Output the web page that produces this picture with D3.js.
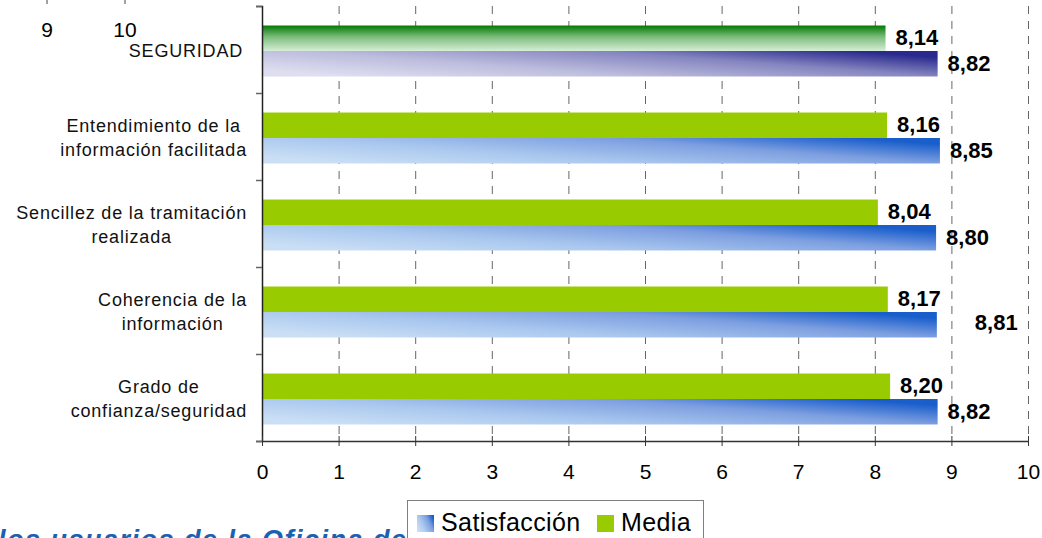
<!DOCTYPE html>
<html>
<head>
<meta charset="utf-8">
<script src="https://cdn.jsdelivr.net/npm/d3@7"></script>
<style>
  body { margin: 0; background: #fff; }
  svg { display: block; }
</style>
</head>
<body>
<script>
// data (top row first)
var categories = [
  "SEGURIDAD",
  "Entendimiento de la\ninformación facilitada",
  "Sencillez de la tramitación\nrealizada",
  "Coherencia de la\ninformación",
  "Grado de\nconfianza/seguridad"
];
var satisfaccion = [8.82, 8.85, 8.80, 8.81, 8.82];
var media = [8.14, 8.16, 8.04, 8.17, 8.20];
var xTicks = [0, 1, 2, 3, 4, 5, 6, 7, 8, 9, 10];
var seriesNames = ["Satisfacción", "Media"];
// leftovers of the chart above that show at the top edge
var prevTicks = [9, 10];
var footerText = "los usuarios de la Oficina de";

var w = 1042, h = 538;
var font = "Arial, 'Liberation Sans', sans-serif";

var svg = d3.select("body").append("svg")
    .attr("width", w)
    .attr("height", h)
    .attr("class", "container")
    .style("background-color", "#fff");

var defs = svg.append("defs");

function diagGrad(id, stops) {
  var g = defs.append("linearGradient").attr("id", id)
      .attr("x1", 0).attr("y1", 0.75).attr("x2", 1).attr("y2", 0.25);
  stops.forEach(function(s){
    g.append("stop").attr("offset", s[0]).attr("stop-color", s[1]);
  });
}
diagGrad("gBlue", [[0, "#cadff5"], [0.35, "#a9c7ee"], [0.7, "#7d9fe0"], [1, "#1a5ecc"]]);
diagGrad("gPurple", [[0, "#dedef0"], [0.35, "#bcbcdd"], [0.7, "#8585c0"], [1, "#2a2a8e"]]);
var gg = defs.append("linearGradient").attr("id", "gGreen")
    .attr("x1", 0).attr("y1", 0).attr("x2", 0).attr("y2", 1);
gg.append("stop").attr("offset", 0).attr("stop-color", "#037903");
gg.append("stop").attr("offset", 0.45).attr("stop-color", "#7dbd7e");
gg.append("stop").attr("offset", 1).attr("stop-color", "#d6eed6");

// scales
var x = d3.scaleLinear().domain([0, 10]).range([262, 1028]);
var y = d3.scaleBand().domain(categories).range([6, 441])
    .paddingInner(0.414).paddingOuter(0.207);
var yEdge = d3.scaleLinear().domain([0, categories.length]).range([6, 441]);
var sub = d3.scaleBand().domain(["media", "satis"]).range([0, y.bandwidth()]);

var fmt = function(v){ return d3.format(".2f")(v).replace(".", ","); };

// dashed vertical gridlines
svg.append("g").attr("class", "grid")
  .selectAll("line")
  .data(xTicks.slice(1))
  .enter().append("line")
    .attr("x1", function(d){ return x(d) + 0.5; })
    .attr("x2", function(d){ return x(d) + 0.5; })
    .attr("y1", 6).attr("y2", 441)
    .attr("stroke", "#666")
    .attr("stroke-width", 1)
    .attr("stroke-dasharray", "8,7");

// bars
var rows = categories.map(function(c, i){
  return { cat: c, i: i, media: media[i], satis: satisfaccion[i] };
});

var bars = svg.append("g").attr("class", "bars")
    .attr("transform", "translate(0,1.5)");

bars.selectAll("rect.media")
  .data(rows).enter().append("rect")
    .attr("class", "media")
    .attr("x", x(0))
    .attr("y", function(d){ return y(d.cat) + sub("media"); })
    .attr("width", function(d){ return x(d.media) - x(0); })
    .attr("height", sub.bandwidth())
    .attr("fill", function(d){ return d.i === 0 ? "url(#gGreen)" : "#99cc00"; });

bars.selectAll("rect.satis")
  .data(rows).enter().append("rect")
    .attr("class", "satis")
    .attr("x", x(0))
    .attr("y", function(d){ return y(d.cat) + sub("satis"); })
    .attr("width", function(d){ return x(d.satis) - x(0); })
    .attr("height", sub.bandwidth())
    .attr("fill", function(d){ return d.i === 0 ? "url(#gPurple)" : "url(#gBlue)"; });

// value labels
var labelStyle = function(sel){
  sel.attr("font-family", font)
     .attr("font-size", 22)
     .attr("font-weight", "bold")
     .attr("fill", "#000");
};
bars.selectAll("text.media")
  .data(rows).enter().append("text")
    .attr("class", "media")
    .attr("x", function(d){ return x(d.media) + 10; })
    .attr("y", function(d){ return y(d.cat) + sub("media") + sub.bandwidth() / 2 + 7; })
    .text(function(d){ return fmt(d.media); })
    .call(labelStyle);

bars.selectAll("text.satis")
  .data(rows).enter().append("text")
    .attr("class", "satis")
    // the Coherencia label sits further out in the original
    .attr("x", function(d){ return x(d.satis) + (d.i === 3 ? 38 : 10); })
    .attr("y", function(d){ return y(d.cat) + sub("satis") + sub.bandwidth() / 2 + (d.i === 3 ? 5 : 7); })
    .text(function(d){ return fmt(d.satis); })
    .call(labelStyle);

// y axis
var yAxis = svg.append("g").attr("class", "y-axis")
    .attr("transform", "translate(262,0)")
    .call(d3.axisLeft(yEdge).tickValues(d3.range(categories.length + 1))
      .tickSize(6).tickFormat(""));
yAxis.select(".domain").attr("stroke", "#222").attr("stroke-width", 1.5);
yAxis.selectAll(".tick line").attr("stroke", "#666").attr("stroke-width", 1.5);

// x axis
var xAxis = svg.append("g").attr("class", "x-axis")
    .attr("transform", "translate(0,441)")
    .call(d3.axisBottom(x).tickValues(xTicks).tickSizeInner(5).tickSizeOuter(0));
xAxis.select(".domain").attr("stroke", "#333").attr("stroke-width", 1.5);
xAxis.selectAll(".tick line").attr("y1", -5).attr("y2", 5).attr("stroke", "#333");
xAxis.selectAll(".tick text")
    .attr("y", 38).attr("dy", 0)
    .attr("font-family", font)
    .attr("font-size", 21)
    .attr("fill", "#000");

// category labels: each block right aligned at the axis, lines centred in it
var catG = svg.append("g").attr("class", "cat-labels");
categories.forEach(function(c){
  var lines = c.split("\n");
  var t = catG.append("text")
      .attr("font-family", font)
      .attr("font-size", 18)
      .attr("letter-spacing", 0.8)
      .attr("fill", "#111")
      .attr("text-anchor", "middle");
  var cy = y(c) + y.bandwidth() / 2 + 1.5;
  var spans = lines.map(function(l, k){
    return t.append("tspan")
        .attr("y", cy - (lines.length - 1) * 24.5 / 2 + 6 + k * 24.5)
        .text(l);
  });
  var maxW = d3.max(spans, function(s){ return s.node().getComputedTextLength(); });
  var right = lines.length === 1 ? 243 : 247;
  spans.forEach(function(s){ s.attr("x", right - maxW / 2); });
});

// bits of the previous chart's axis at the top edge
var xPrev = d3.scaleLinear().domain([9, 10]).range([47, 125]);
svg.append("g").selectAll("line").data(prevTicks).enter().append("line")
    .attr("x1", function(d){ return xPrev(d); })
    .attr("x2", function(d){ return xPrev(d); })
    .attr("y1", 0).attr("y2", 4)
    .attr("stroke", "#444");
svg.append("g").selectAll("text").data(prevTicks).enter().append("text")
    .attr("x", function(d){ return xPrev(d); })
    .attr("y", 37)
    .attr("text-anchor", "middle")
    .attr("font-family", font)
    .attr("font-size", 21)
    .attr("fill", "#000")
    .text(function(d){ return d; });

// legend
var legend = svg.append("g").attr("class", "legend");
legend.append("rect")
    .attr("x", 407.5).attr("y", 500.5)
    .attr("width", 296).attr("height", 60)
    .attr("fill", "#fff")
    .attr("stroke", "#7f7f7f");
var legItems = [
  { name: seriesNames[0], fill: "url(#gBlue)", sx: 417, tx: 441 },
  { name: seriesNames[1], fill: "#99cc00", sx: 597, tx: 621 }
];
legItems.forEach(function(it){
  legend.append("rect")
      .attr("x", it.sx).attr("y", 515)
      .attr("width", 17).attr("height", 17)
      .attr("fill", it.fill);
  legend.append("text")
      .attr("x", it.tx).attr("y", 531)
      .attr("font-family", font)
      .attr("font-size", 25)
      .attr("letter-spacing", 0.4)
      .attr("fill", "#000")
      .text(it.name);
});

// cut-off heading at the bottom left
svg.append("text")
    .attr("x", -2).attr("y", 549)
    .attr("font-family", font)
    .attr("font-size", 27)
    .attr("font-weight", "bold")
    .attr("font-style", "italic")
    .attr("letter-spacing", 1.5)
    .attr("fill", "#1a62b0")
    .text(footerText);
</script>
</body>
</html>
